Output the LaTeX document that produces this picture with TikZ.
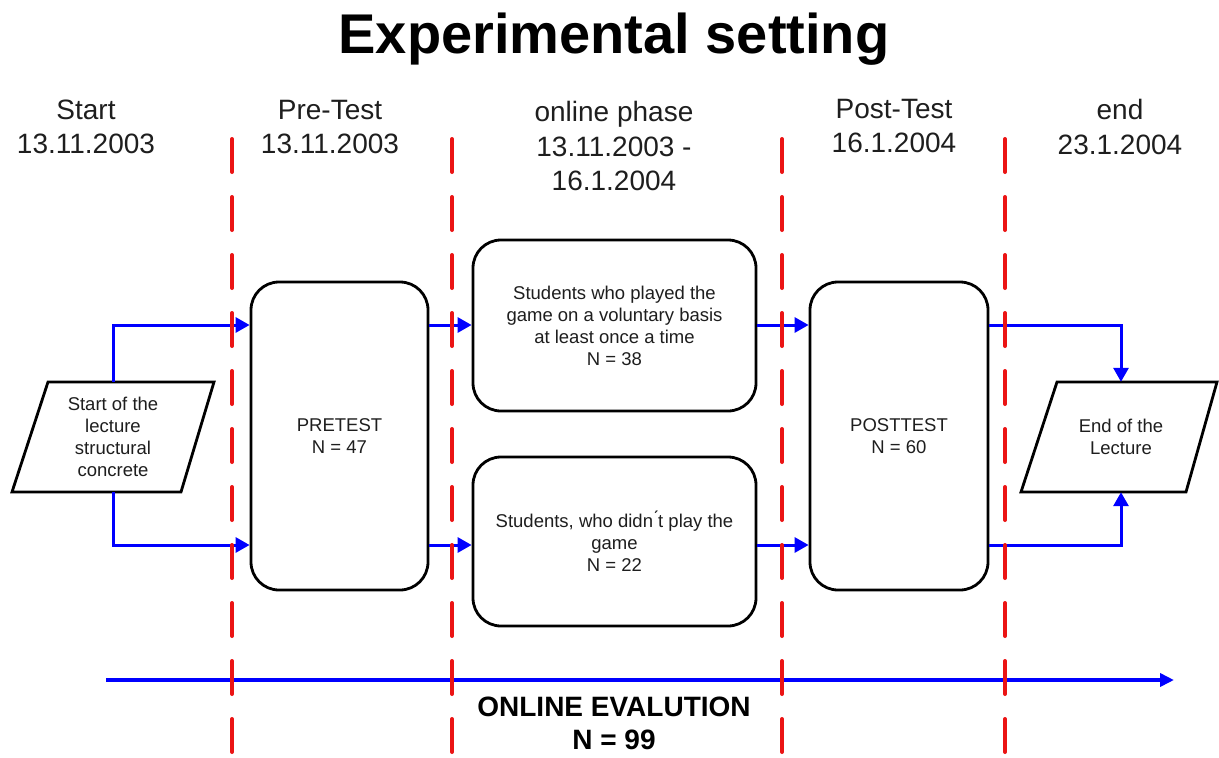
\documentclass[tikz,border=0pt]{standalone}
\usepackage{fontspec}
\setmainfont{Liberation Sans}
\usetikzlibrary{arrows.meta}
\definecolor{lineblue}{RGB}{0,0,255}
\definecolor{dashred}{RGB}{235,20,20}
\definecolor{txt}{RGB}{30,30,30}
\begin{document}
\begin{tikzpicture}[x=1pt,y=-1pt,
  box/.style={draw=black, line width=2.8pt, rounded corners=28pt, fill=white, align=center,
    text=txt, font=\fontsize{18.5}{22}\selectfont, inner sep=0pt},
  plain/.style={align=center, text=txt, font=\fontsize{18.5}{22}\selectfont, inner sep=0pt,
    minimum height=110pt},
  para/.style={draw=black, line width=2.8pt, fill=white, line join=miter},
  head/.style={align=center, text=txt, font=\fontsize{28}{34.5}\selectfont},
  arr/.style={draw=lineblue, line width=3pt, -{Triangle[length=14pt,width=15pt]}},
  dashline/.style={draw=dashred, line width=4pt, line cap=round, dash pattern=on 33pt off 25pt}
]
\useasboundingbox (0,0) rectangle (1219,758);

% title
\node[font=\bfseries\fontsize{56}{60}\selectfont] (title) at (614,39) {Experimental setting};

% headers
\node[head] (h1) at (86,127) {Start\\13.11.2003};
\node[head] (h2) at (330,127) {Pre-Test\\13.11.2003};
\node[head] (h3) at (614,146) {online phase\\13.11.2003 -\\16.1.2004};
\node[head] (h4) at (894,126) {Post-Test\\16.1.2004};
\node[head] (h5) at (1120,127) {end\\23.1.2004};

% parallelograms
\draw[para] (48,382) -- (214,382) -- (181,492) -- (12,492) -- cycle;
\node[plain] (start) at (113,437) {Start of the\\lecture\\structural\\concrete};
\draw[para] (1057,382) -- (1217,382) -- (1186,492) -- (1021,492) -- cycle;
\node[plain] (end) at (1121,437) {End of the\\Lecture};

% boxes
\node[box, minimum width=177pt, minimum height=308pt] (pre) at (339.5,436) {PRETEST\\N = 47};
\node[box, minimum width=283pt, minimum height=171pt] (on1) at (614.5,325.5)
  {Students who played the\\game on a voluntary basis\\at least once a time\\N = 38};
\node[box, minimum width=283pt, minimum height=169pt] (on2) at (614.5,541.5)
  {Students, who didn\'{}t play the\\game\\N = 22};
\node[box, minimum width=178pt, minimum height=308pt] (post) at (899,436) {POSTTEST\\N = 60};

% connector levels
\coordinate (yu) at (0,325);
\coordinate (yd) at (0,545);

\draw[arr] (start.north) |- (pre.west |- yu);
\draw[arr] (start.south) |- (pre.west |- yd);
\draw[arr] (pre.east |- yu) -- (on1.west |- yu);
\draw[arr] (pre.east |- yd) -- (on2.west |- yd);
\draw[arr] (on1.east |- yu) -- (post.west |- yu);
\draw[arr] (on2.east |- yd) -- (post.west |- yd);
\draw[arr] (post.east |- yu) -| (end.north);
\draw[arr] (post.east |- yd) -| (end.south);

% timeline
\coordinate (tl0) at (106,680);
\coordinate (tl1) at (1174,680);
\draw[draw=lineblue, line width=3.5pt, -{Triangle[length=14pt,width=13pt]}] (tl0) -- (tl1);
\node[align=center, font=\bfseries\fontsize{28}{33}\selectfont] (eval) at (614,723) {ONLINE EVALUTION\\N = 99};

% dashed separators
\draw[dashline] (232,139) -- (232,760);
\draw[dashline] (452,139) -- (452,760);
\draw[dashline] (782,139) -- (782,760);
\draw[dashline] (1005,139) -- (1005,760);
\end{tikzpicture}
\end{document}
